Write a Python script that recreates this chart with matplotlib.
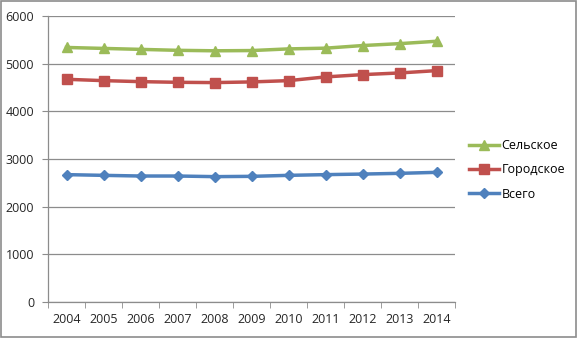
import matplotlib.pyplot as plt
import numpy as np

plt.rcParams['font.family'] = ['Open Sans', 'DejaVu Sans']

# Data
years = [2004, 2005, 2006, 2007, 2008, 2009, 2010, 2011, 2012, 2013, 2014]
rural = [5340, 5320, 5300, 5280, 5270, 5275, 5310, 5325, 5380, 5420, 5470]
urban = [4672, 4644, 4623, 4609, 4603, 4617, 4644, 4722, 4770, 4805, 4854]
total = [2672, 2657, 2643, 2643, 2630, 2636, 2657, 2672, 2684, 2699, 2720]
series_names = ['Сельское', 'Городское', 'Всего']

fig = plt.figure(figsize=(5.78, 3.38), dpi=100)
ax = fig.add_axes([48 / 578, 36 / 338, 407 / 578, 286 / 338])

x = np.arange(len(years))
ax.plot(x, rural, color='#9BBB59', lw=2.5, marker='^', ms=7, label=series_names[0])
ax.plot(x, urban, color='#C0504D', lw=2.5, marker='s', ms=7, label=series_names[1])
ax.plot(x, total, color='#4F81BD', lw=2.5, marker='D', ms=5, label=series_names[2])

ax.set_xlim(-0.5, len(years) - 0.5)
ax.set_ylim(0, 6000)
ax.set_yticks(range(0, 6001, 1000))
ax.yaxis.grid(True, color='#8C8C8C', lw=0.9)
ax.set_axisbelow(True)

# category labels centered, tick marks between categories
ax.set_xticks(x)
ax.set_xticklabels([str(y) for y in years])
ax.set_xticks(np.arange(-0.5, len(years), 1), minor=True)
ax.tick_params(axis='x', which='major', length=0, pad=8, labelsize=9, colors='#262626')
ax.tick_params(axis='x', which='minor', length=4, color='#8C8C8C')
ax.tick_params(axis='y', length=4, color='#8C8C8C', labelsize=9, colors='#262626', pad=6)

for s in ['top', 'right']:
    ax.spines[s].set_visible(False)
for s in ['left', 'bottom']:
    ax.spines[s].set_color('#8C8C8C')
    ax.spines[s].set_linewidth(0.9)

ax.legend(loc='center left', bbox_to_anchor=(458 / 578, 168 / 338), bbox_transform=fig.transFigure,
          frameon=False, fontsize=9, handlelength=2.4, handletextpad=0.2, labelspacing=0.9)

# chart border
fig.patches.append(plt.Rectangle((0.002, 0.003), 0.994, 0.994, transform=fig.transFigure,
                                 fill=False, edgecolor='#8C8C8C', lw=1.2))

fig.savefig('out.png', dpi=100)
